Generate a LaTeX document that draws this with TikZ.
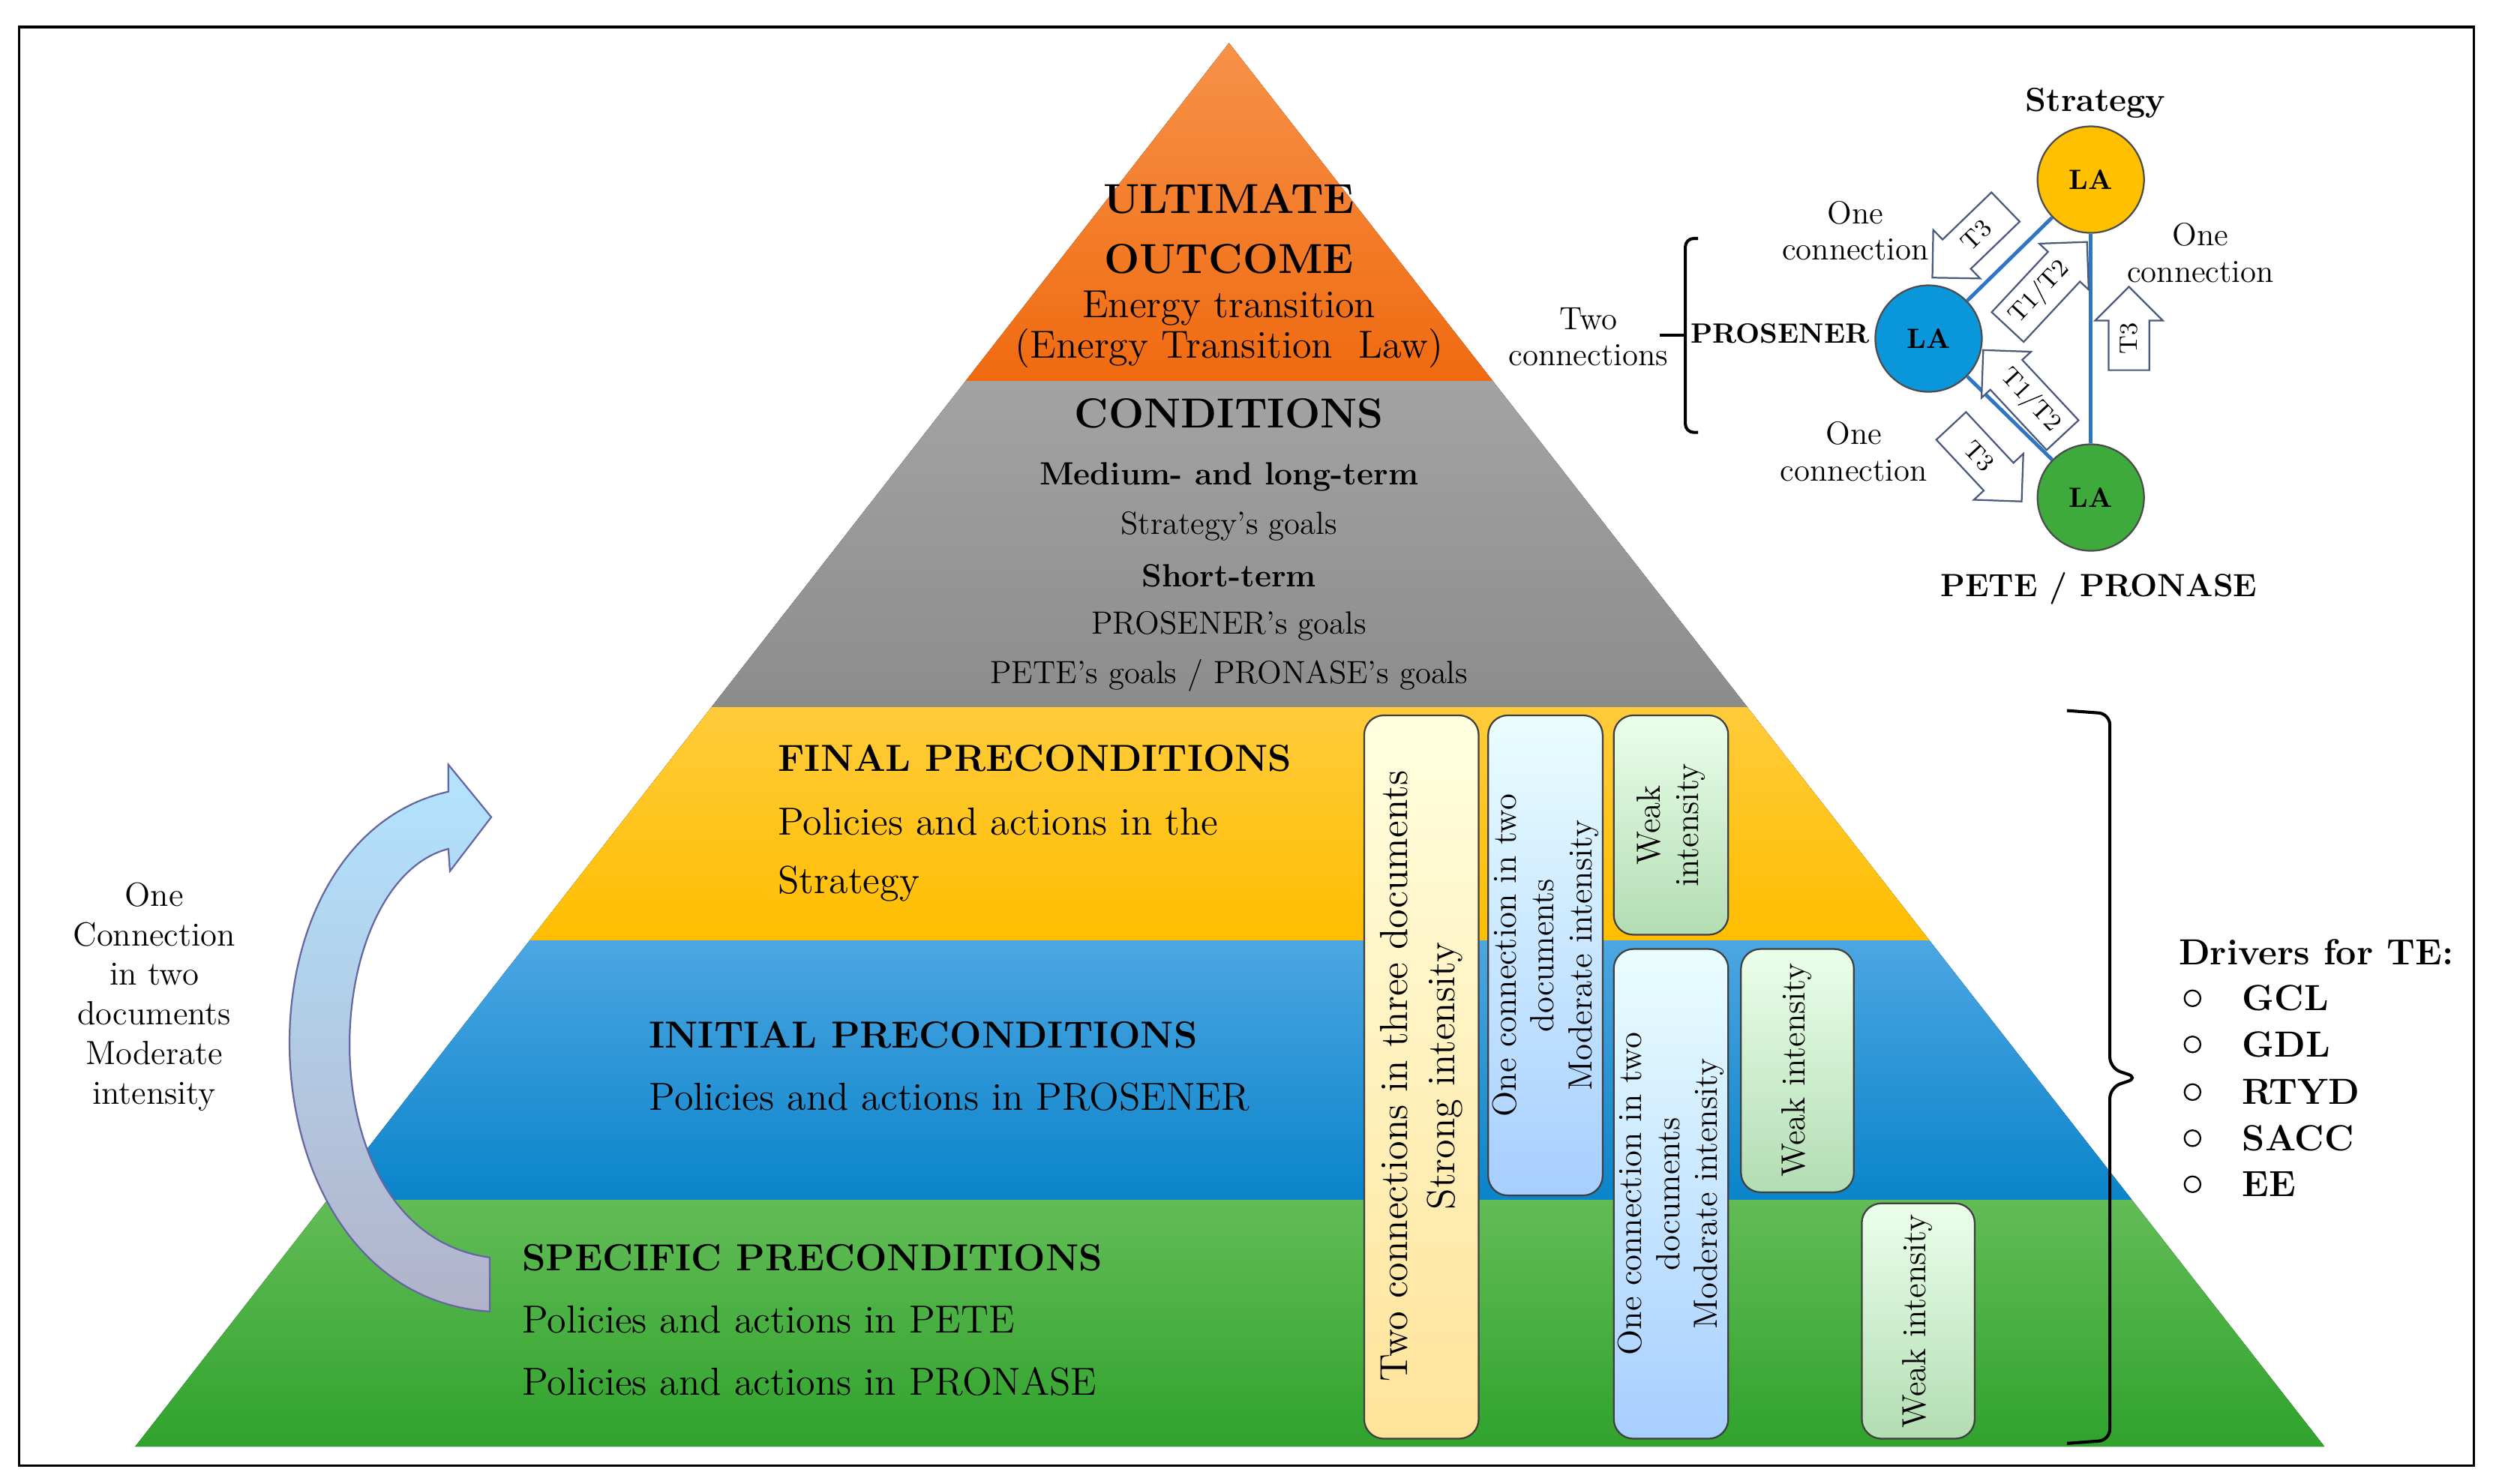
\documentclass[tikz,border=0pt]{standalone}
\usetikzlibrary{shapes.arrows}
\definecolor{oT}{HTML}{F7934A}\definecolor{oB}{HTML}{F06A10}
\definecolor{gT}{HTML}{A3A3A3}\definecolor{gB}{HTML}{8C8C8C}
\definecolor{yT}{HTML}{FFCB3A}\definecolor{yB}{HTML}{FFBE00}
\definecolor{bT}{HTML}{4CA6E2}\definecolor{bB}{HTML}{0A84CA}
\definecolor{grT}{HTML}{62BC56}\definecolor{grB}{HTML}{2FA22C}
\definecolor{laY}{HTML}{FFC000}\definecolor{laB}{HTML}{0A96DB}\definecolor{laG}{HTML}{3EAA3C}
\definecolor{lnk}{HTML}{2E75C6}\definecolor{arr}{HTML}{4A5A7A}
\begin{document}
\begin{tikzpicture}[x=0.02cm,y=-0.02cm,
  body/.style={font=\fontsize{14}{16}\selectfont,inner sep=0pt},
  head/.style={font=\bfseries\fontsize{13.5}{16}\selectfont,inner sep=0pt},
  small/.style={font=\fontsize{11.5}{13}\selectfont,inner sep=0pt},
  smallb/.style={font=\bfseries\fontsize{11.5}{13}\selectfont,inner sep=0pt},
  vbox/.style={rounded corners=7pt,draw=black!75,line width=0.6pt},
  ybox/.style={vbox,top color=yellow!12,bottom color=yellow!45!orange!40},
  bbox/.style={vbox,top color=blue!5!cyan!8,bottom color=cyan!45!blue!35},
  gbox/.style={vbox,top color=green!8,bottom color=green!55!black!30},
  vtxt/.style={rotate=90,align=center,inner sep=0pt},
  la/.style={circle,draw=black!70,line width=0.6pt,minimum size=1.34cm,font=\bfseries\fontsize{10}{12}\selectfont},
  link/.style={draw=lnk,line width=1.3pt},
  blk/.style={shape=single arrow,draw=arr,fill=white,line width=0.6pt,inner sep=3pt,
     minimum width=0.85cm,single arrow head extend=0.15cm,font=\fontsize{9}{10}\selectfont},
  net/.style={font=\fontsize{11.5}{13}\selectfont,align=center,inner sep=0pt},
  netb/.style={font=\bfseries\fontsize{10}{13}\selectfont,inner sep=0pt}
]
\useasboundingbox (0,0) rectangle (1568,933.5);
\draw[line width=0.9pt] (12,17) rectangle (1556,922);
% pyramid
\begin{scope}
\clip (773,27) -- (1462,910) -- (85,910) -- cycle;
\fill[top color=oT, bottom color=oB] (0,20) rectangle (1568,240);
\fill[top color=gT, bottom color=gB] (0,240) rectangle (1568,445);
\fill[top color=yT, bottom color=yB] (0,445) rectangle (1568,592);
\fill[top color=bT, bottom color=bB] (0,592) rectangle (1568,755);
\fill[top color=grT, bottom color=grB] (0,755) rectangle (1568,912);
\end{scope}
% orange
\node[head,font=\bfseries\fontsize{15}{17}\selectfont] (u1) at (773,125) {ULTIMATE};
\node[head,font=\bfseries\fontsize{15}{17}\selectfont] (u2) at (773,163) {OUTCOME};
\node[body] (u3) at (773,194) {Energy transition};
\node[body] (u4) at (773,219) {(Energy Transition\ \ Law)};
% grey
\node[head,font=\bfseries\fontsize{15}{17}\selectfont] (c1) at (773,260) {CONDITIONS};
\node[smallb] (c2) at (773,300) {Medium- and long-term};
\node[small] (c3) at (773,331) {Strategy’s goals};
\node[smallb] (c4) at (773,362) {Short-term};
\node[small] (c5) at (773,394) {PROSENER’s goals};
\node[small] (c6) at (773,425) {PETE’s goals / PRONASE’s goals};
% yellow
\node[head,anchor=west] (f1) at (489,477) {FINAL PRECONDITIONS};
\node[body,anchor=west] (f2) at (489,517) {Policies and actions in the};
\node[body,anchor=west] (f3) at (489,556) {Strategy};
% blue
\node[head,anchor=west] (i1) at (408,651) {INITIAL PRECONDITIONS};
\node[body,anchor=west] (i2) at (408,690) {Policies and actions in PROSENER};
% green
\node[head,anchor=west] (s1) at (328,791) {SPECIFIC PRECONDITIONS};
\node[body,anchor=west] (s2) at (328,830) {Policies and actions in PETE};
\node[body,anchor=west] (s3) at (328,869) {Policies and actions in PRONASE};
% vertical boxes
\filldraw[ybox] (858,450) rectangle (930,905);
\node[vtxt,font=\fontsize{14}{17}\selectfont] (v1) at (894,677) {Two connections in three documents\\Strong intensity};
\filldraw[bbox] (936,450) rectangle (1008,752);
\node[vtxt,font=\fontsize{12}{13.5}\selectfont] (v2) at (972,601) {One connection in two\\documents\\Moderate intensity};
\filldraw[gbox] (1015,450) rectangle (1087,588);
\node[vtxt,font=\fontsize{12}{13.5}\selectfont] (v3) at (1051,519) {Weak\\intensity};
\filldraw[bbox] (1015,597) rectangle (1087,905);
\node[vtxt,font=\fontsize{12}{13.5}\selectfont] (v4) at (1051,751) {One connection in two\\documents\\Moderate intensity};
\filldraw[gbox] (1095,597) rectangle (1166,750);
\node[vtxt,font=\fontsize{12}{13.5}\selectfont] (v5) at (1130,673) {Weak intensity};
\filldraw[gbox] (1171,757) rectangle (1242,905);
\node[vtxt,font=\fontsize{12}{13.5}\selectfont] (v6) at (1206,831) {Weak intensity};
% right bracket and drivers
\draw[line width=1.1pt,rounded corners=4pt] (1300,447) -- (1327,449) -- (1327,672) -- (1345,678) -- (1327,684) -- (1327,906) -- (1300,908);
\node[font=\bfseries\fontsize{13}{15}\selectfont,anchor=west,inner sep=0pt] (dr) at (1370,599) {Drivers for TE:};
\foreach \t/\yy in {GCL/628,GDL/657,RTYD/687,SACC/716,EE/745}{
  \draw[line width=0.6pt] (1379,\yy) circle (5);
  \node[font=\bfseries\fontsize{13}{15}\selectfont,anchor=west,inner sep=0pt] (d\t) at (1410,\yy) {\t};
}
% curved arrow
\filldraw[draw=black!60!blue!60,line width=0.6pt,top color=blue!35!cyan!30,bottom color=black!10!blue!20!gray!50]
  (308,825) .. controls (150,815) and (140,530) .. (282,498) -- (282,481) -- (309,514) -- (283,548)
  -- (282,534) .. controls (200,555) and (190,775) .. (308,791) -- cycle;
\node[font=\fontsize{12}{14.2}\selectfont,align=center,inner sep=0pt] (lt) at (97,627) {One\\Connection\\in two\\documents\\Moderate\\intensity};
% network
\node[la,fill=laY] (ys) at (1315,113) {LA};
\node[la,fill=laB] (yp) at (1213,213) {LA};
\node[la,fill=laG] (yg) at (1315,313) {LA};
\draw[link] (ys) -- (yp);
\draw[link] (yp) -- (yg);
\draw[link] (ys) -- (yg);
\node[netb,font=\bfseries\fontsize{12}{14}\selectfont] (ls) at (1318,65) {Strategy};
\node[netb,anchor=east] (lp) at (1176,210) {PROSENER};
\node[netb,font=\bfseries\fontsize{11.5}{14}\selectfont] (lg) at (1320,370) {PETE / PRONASE};
\node[net] (o1) at (1167,145) {One\\connection};
\node[net] (o2) at (1384,159) {One\\connection};
\node[net] (o3) at (1166,284) {One\\connection};
\node[net] (o4) at (999,212) {Two\\connections};
\draw[line width=1.1pt,rounded corners=3pt] (1068,150) -- (1060,150) -- (1060,272) -- (1068,272);
\draw[line width=1.1pt] (1044,211) -- (1060,211);
\node[blk,rotate=44,shape border rotate=180,minimum height=1.28cm] (a1) at (1243,148) {T3};
\node[blk,rotate=47,minimum height=1.3cm] (a2) at (1283,184) {T1/T2};
\node[blk,rotate=-47,shape border rotate=180,minimum height=1.3cm] (a3) at (1277,252) {T1/T2};
\node[blk,rotate=-47,minimum height=1.3cm] (a4) at (1245,287) {T3};
\node[blk,rotate=90,minimum height=1.05cm] (a5) at (1339,213) {T3};
\end{tikzpicture}
\end{document}
